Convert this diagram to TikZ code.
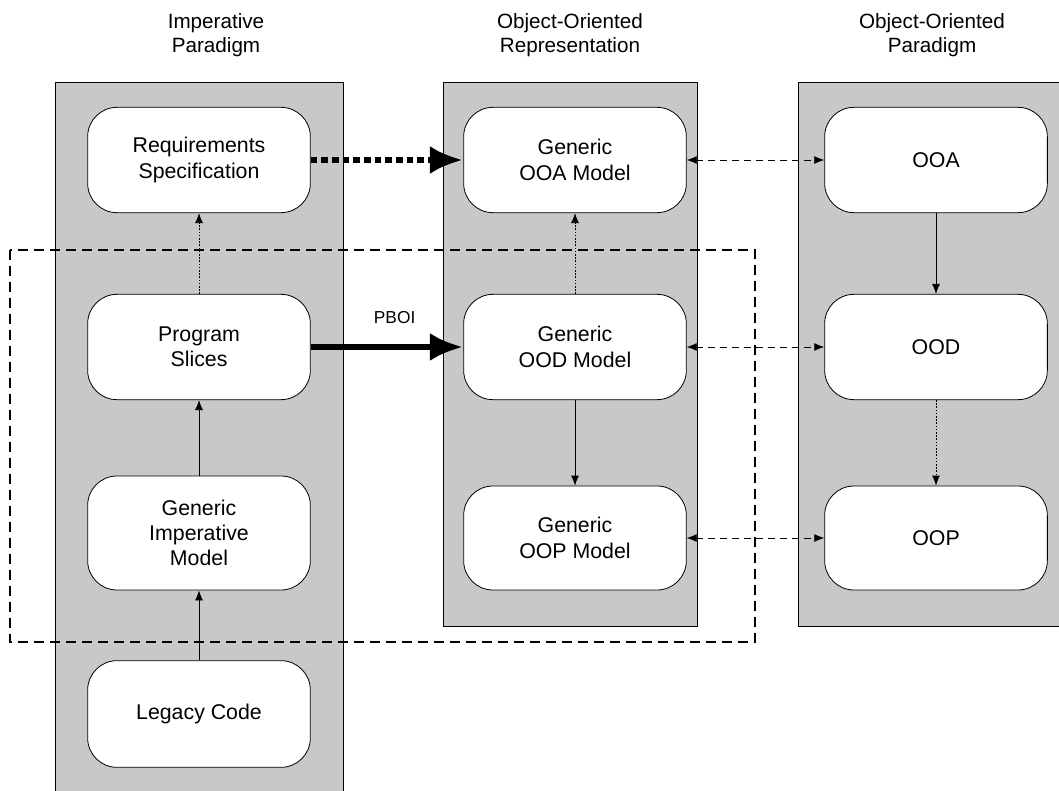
\documentclass[tikz,border=0pt]{standalone}
\usepackage{fontspec}
\setmainfont{Liberation Sans}
\usetikzlibrary{arrows.meta}
\definecolor{screen}{RGB}{200,200,200}
\tikzset{every picture/.style={line width=0.6pt}}
\tikzset{
  paradigm/.style={fill=screen},
  stage/.style={draw, fill=white, rounded corners=22pt, minimum width=167pt,
    minimum height=79pt, inner sep=0pt, align=center,
    font=\fontsize{16}{19}\selectfont},
  heading/.style={align=center, font=\fontsize{15.5}{17.5}\selectfont},
  thinarrow/.style={-{Latex[length=7.5pt,width=6pt]}},
  finearrow/.style={thinarrow, dash pattern=on 1.2pt off 1.2pt},
  linkarrow/.style={{Latex[length=7.5pt,width=6pt]}-{Latex[length=7.5pt,width=6pt]}, dash pattern=on 5pt off 4pt},
  boldarrow/.style={line width=5pt, -{Latex[length=25pt,width=21pt]}},
  bolddotted/.style={boldarrow, dash pattern=on 5pt off 3pt},
  frame/.style={line width=1.1pt, dash pattern=on 7.5pt off 4.5pt}
}

\begin{document}
\begin{tikzpicture}[x=0.75pt,y=0.75pt,yscale=-1,xscale=1]
\useasboundingbox (0,0) rectangle (1059,791);

%Shape: columns
\fill [paradigm] (55,82) rectangle (343,791);
\draw (55,791) -- (55,82) -- (343,82) -- (343,791);
\fill [paradigm] (443,82) rectangle (697,626);
\draw (443,82) rectangle (697,626);
\fill [paradigm] (798,82) rectangle (1059,626);
\draw (1059,82) -- (798,82) -- (798,626) -- (1059,626);

%Shape: dashed frame
\draw [frame] (10,250) rectangle (755,642);

% Headings
\node [heading] (hImp) at (216,35) {Imperative\\Paradigm};
\node [heading] (hRep) at (570,35) {Object-Oriented\\Representation};
\node [heading] (hPar) at (932,35) {Object-Oriented\\Paradigm};

% Imperative column
\node [stage] (req) at (199,160) {Requirements\\Specification};
\node [stage] (slices) at (199,347) {Program\\Slices};
\node [stage, minimum height=85.5pt] (gim) at (199,533) {Generic\\Imperative\\Model};
\node [stage, minimum height=80pt] (legacy) at (199,714) {Legacy Code};

% Representation column
\node [stage] (ooa) at (575,160) {Generic\\OOA Model};
\node [stage] (ood) at (575,347) {Generic\\OOD Model};
\node [stage, minimum height=78pt] (oop) at (575,538) {Generic\\OOP Model};

% Paradigm column
\node [stage] (ooaP) at (936,160) {OOA};
\node [stage] (oodP) at (936,347) {OOD};
\node [stage, minimum height=78pt] (oopP) at (936,538) {OOP};

% Arrows
\draw [finearrow] (slices) -- (req);
\draw [thinarrow] (gim) -- (slices);
\draw [thinarrow] (legacy) -- (gim);
\draw [bolddotted] (req) -- (ooa);
\draw [boldarrow] (slices) -- node [pos=0.55, above=12pt, font=\fontsize{13}{15}\selectfont] (pboi) {PBOI} (ood);
\draw [finearrow] (ood) -- (ooa);
\draw [thinarrow] (ood) -- (oop);
\draw [linkarrow] (ooa) -- (ooaP);
\draw [linkarrow] (ood) -- (oodP);
\draw [linkarrow] (oop) -- (oopP);
\draw [thinarrow] (ooaP) -- (oodP);
\draw [finearrow] (oodP) -- (oopP);

\end{tikzpicture}
\end{document}
